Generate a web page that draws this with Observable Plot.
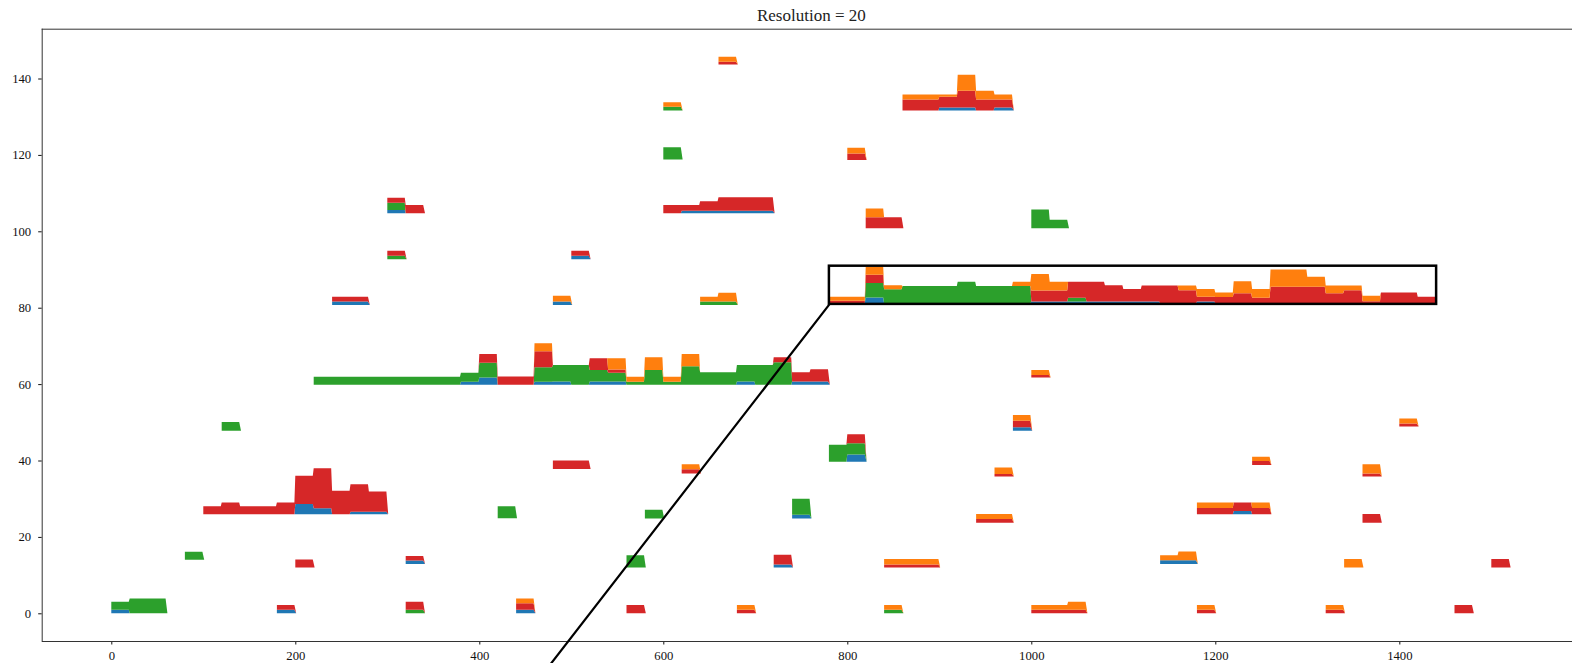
<!DOCTYPE html>
<html>
<head>
<meta charset="utf-8">
<script src="https://cdn.jsdelivr.net/npm/d3@7"></script>
<script src="https://cdn.jsdelivr.net/npm/@observablehq/plot@0.6"></script>
<style>
  html, body { margin: 0; padding: 0; background: #fff; overflow: hidden; }
</style>
</head>
<body>
<div id="chart"></div>
<script>
// ---------- data ----------
const titleText = "Resolution = 20";
const binWidth = 20;
const seriesNames = ["Series A", "Series B", "Series C", "Series D"];
const seriesColors = ["#1f77b4", "#2ca02c", "#d62728", "#ff7f0e"];
const xTicks = [0, 200, 400, 600, 800, 1000, 1200, 1400];
const yTicks = [0, 20, 40, 60, 80, 100, 120, 140];
const xDomain = [-75.65, 1587.7];
const yDomain = [-7.25, 153.04];

// each blob: start x, baseline y, and per-series values per 20-wide bin
const blobStart = [0,180,320,440,560,680,840,1000,1180,1320,1460,
  80,200,320,560,720,840,1140,1340,1500,
  100,420,580,740,940,1180,1360,
  480,620,780,960,980,1240,1360,1400,120,1000,
  220,
  240,480,640,780,
  300,500,
  300,600,820,1000,
  600,800,
  600,860,
  660];
const blobBase = [0,0,0,0,0,0,0,0,0,0,0,
  14,12,12.9,12,12,12,12.9,12,12,
  25.9,24.9,24.8,24.8,23.7,25.9,23.7,
  37.8,36.6,39.7,35.8,47.8,38.8,35.8,48.9,47.8,61.7,
  59.8,
  80.7,80.7,80.7,81.2,
  92.7,92.7,
  104.7,104.7,100.8,100.8,
  118.8,118.7,
  131.6,131.6,
  143.7];

const blueVals = [
  [0.9,0,0],[0.9],[],[0.9],[],[],[],[],[],[],[],
  [],[],[0.9],[],[0.8],[],[1,1],[],[],
  [0,0,0,0,0,2.7,1.6,0,0.7,0.7],[],[],[1],[],[0,0,0.9,0],[],
  [],[],[0,1.9],[],[0.9],[],[],[],[],[],
  [0,0,0,0,0,0,0,0,0.8,1.9,0,0,0.8,0.9,0,0.9,0.9,0,0,0,0,0,0,0.9,0,0,0.9,0.9],
  [0.9,0.9],[0.9],[],
  [0,0,1.5,0,0,0,0,0,0,0,0,0.4,0.4,0.4,0.4,0.4,0.4,0.4,0,0,0.4,0,0,0,0,0,0,0,0,0,0,0,0],
  [],[0.9],
  [0.9,0],[0,0.7,0.7,0.7,0.7,0.7],[],[],
  [],[],
  [],[0,0,0.8,0.8,0,0.8],
  []
];
const greenVals = [
  [2.1,3.9,3.9],[],[0.9],[],[],[],[0.9],[],[],[],[],
  [2.1],[],[],[3.2],[],[],[],[],[],
  [],[3.1],[2.3],[4.2],[],[],[],
  [],[],[4.4,2.9],[],[],[],[],[],[2.3],[],
  [2.1,2.1,2.1,2.1,2.1,2.1,2.1,2.1,2.4,3.9,0,0,3.8,4.3,5.2,3.0,2.3,0.8,3.9,0.8,4.9,3.3,3.3,4.3,5.2,5.9,0,0],
  [],[],[0.9,0.9],
  [0,0,3.8,3.6,4.5,4.5,4.5,5.6,4.5,4.5,4.5,0,0,1.0,0,0,0,0,0,0,0,0,0,0,0,0,0,0,0,0,0,0,0],
  [0.9],[],
  [1.9,0],[],[],[4.9,2.2],
  [3.2],[],
  [1],[],
  []
];
const redVals = [
  [],[1.3],[2.1],[1.7],[2.2],[0.9],[],[0.9,0.9,0.9],[0.9],[0.9],[2.2],
  [],[2.1],[1.2],[],[2.5],[0.8,0.8,0.8],[],[],[2.2],
  [2.1,3.1,2.1,2.1,3.1,7.4,10.5,6.2,7.2,5.3],[],[],[],[1,1],[1.7,1.7,2.2,1.7],[2.3],
  [2.2,2.2],[1.1],[0,2.4],[0.7],[1.7],[1.1],[0.8],[0.8],[],[0.7],
  [0,0,0,0,0,0,0,0,0,2.3,2.2,2.2,4.2,0,0,3.1,0.8,0,0,0,0,0,0,0,0,1.3,2.4,3.2],
  [1.3,1.3],[],[],
  [0.6,0.6,2.1,0,0,0,0,0,0,0,0,2.9,2.9,4.2,5.2,4.3,3.3,4.2,4.6,3.4,1.3,1.6,2.6,1.4,4.3,4.3,4.3,2.6,3.4,0.5,2.8,2.8,1.7],
  [1.3],[1.3],
  [1.3,2.2],[2.2,1.5,2.5,3.5,3.5,3.5],[2.9,2.9],[],
  [],[1.7],
  [],[2.9,2.9,2.8,4.4,2.9,2.1],
  [0.7]
];
const orangeVals = [
  [],[],[],[1.3],[],[1.3],[1.3],[1.3,1.3,2.1],[1.3],[1.3],[],
  [],[],[],[],[],[1.4,1.4,1.4],[1.3,2.3],[2.2],[],
  [],[],[],[],[1.3,1.3],[1.4,1.4,0,1.4],[],
  [],[1.3],[],[1.7],[1.5],[1.1],[2.4],[1.3],[],[1.3],
  [0,0,0,0,0,0,0,0,0,0,0,0,2.1,0,0,0,3.0,1.3,3.3,1.3,3.2,0,0,0,0,0,0,0],
  [],[1.5],[1.3,2.3],
  [1.1,1.1,2.1,1.1,0,0,0,0,0,0,1.1,4.3,2.3,0,0,0,0,0,0,1.2,2.0,1.2,3.1,2.3,4.5,4.5,2.6,2.0,1.2,1.4,0,0,0],
  [],[],
  [],[],[2.3,0],[],
  [],[1.5],
  [1.2],[1.3,1.3,0.6,4.2,2.3,1.3],
  [1.3]
];

// zoom box and its connector line (data coordinates)
const insetBox = [{x1: 780, x2: 1440, y1: 81, y2: 91}];
const connector = [[780, 81], [476.5, -13.3]];

// ---------- build stacked area polygons ----------
const pts = [];
blobStart.forEach((start, b) => {
  const base = blobBase[b];
  const layers = [blueVals[b], greenVals[b], redVals[b], orangeVals[b]];
  const n = Math.max(...layers.map(a => a.length));
  const cum = new Array(n).fill(0);
  layers.forEach((vals, k) => {
    if (!vals.length || vals.every(v => v === 0)) return;
    const key = b + "-" + k;
    const series = seriesNames[k];
    for (let i = 0; i < n; i++) {
      const v = vals[i] ?? 0;
      const lo = base + cum[i], hi = lo + v;
      const s = start + binWidth * i;
      pts.push({key, series, x: s, y1: lo, y2: hi});
      pts.push({key, series, x: s + binWidth - 1, y1: lo, y2: hi});
      cum[i] += v;
    }
    pts.push({key, series, x: start + binWidth * n + 1, y1: base, y2: base});
  });
});

const chart = Plot.plot({
  width: 1572,
  height: 663,
  marginLeft: 41.7,
  marginRight: 0,
  marginTop: 28.7,
  marginBottom: 22,
  style: {fontFamily: "'Liberation Serif', 'DejaVu Serif', serif", fontSize: "12.7px", color: "#111", background: "#fff"},
  x: {domain: xDomain, ticks: xTicks, tickSize: 3.5, tickPadding: 5.5, tickFormat: d => String(d), label: null},
  y: {domain: yDomain, ticks: yTicks, tickSize: 3.5, tickPadding: 7.5, tickFormat: d => String(d), label: null},
  color: {type: "ordinal", domain: seriesNames, range: seriesColors},
  marks: [
    Plot.area(pts, {x1: "x", y1: "y1", y2: "y2", z: "key", fill: "series", curve: "linear"}),
    Plot.ruleX([xDomain[0]], {stroke: "#333", strokeWidth: 1}),
    Plot.ruleY([yDomain[0]], {stroke: "#333", strokeWidth: 1}),
    Plot.ruleY([yDomain[1]], {stroke: "#333", strokeWidth: 1}),
    Plot.rect(insetBox, {x1: "x1", x2: "x2", y1: "y1", y2: "y2", fill: "none", stroke: "#000", strokeWidth: 2.5}),
    Plot.line(connector, {x: d => d[0], y: d => d[1], stroke: "#000", strokeWidth: 2.2}),
    Plot.text([titleText], {frameAnchor: "top", dx: 4, dy: -13.5, fontSize: 17, fill: "#222", lineAnchor: "middle"})
  ]
});
document.getElementById("chart").appendChild(chart);
</script>
</body>
</html>
